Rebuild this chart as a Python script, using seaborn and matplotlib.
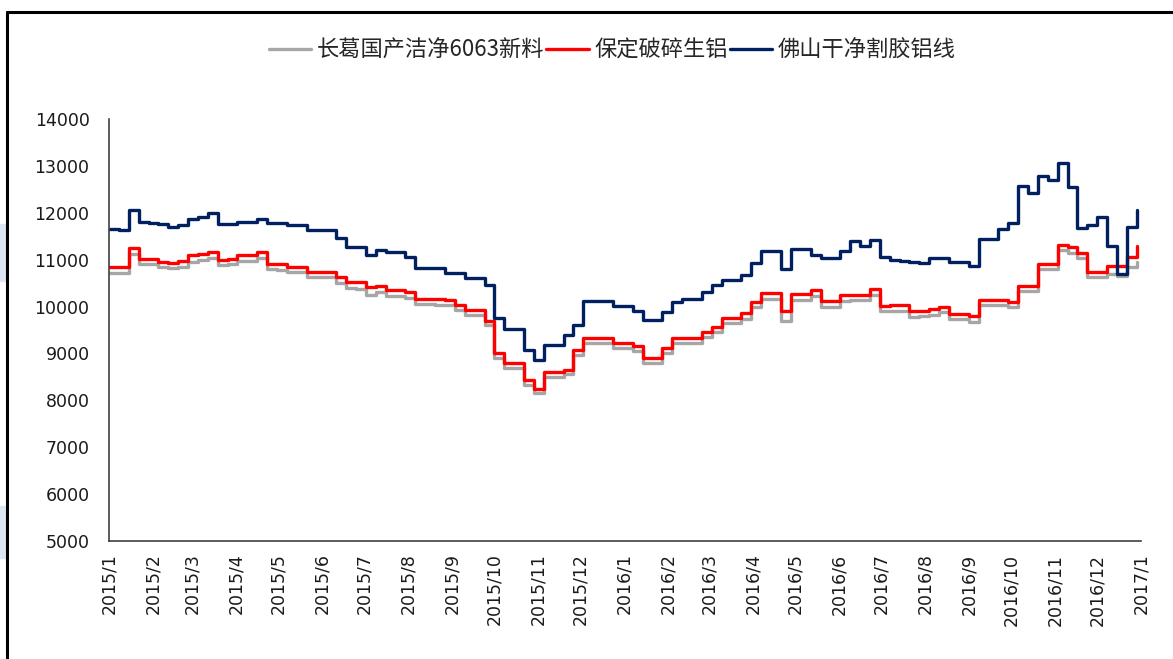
import pandas as pd
import seaborn as sns
import matplotlib.pyplot as plt
from matplotlib.lines import Line2D
from matplotlib.patches import Rectangle

# weekly price readings, 2015-01-01 .. 2016-12-29
dates = pd.date_range("2015-01-01", periods=105, freq="7D")

changge_6063 = [
    10720, 10720, 11120, 10900, 10900, 10850, 10820, 10840, 10960, 10990,
    11030, 10880, 10900, 10970, 10980, 11040, 10800, 10790, 10730, 10730,
    10630, 10630, 10620, 10500, 10400, 10380, 10250, 10300, 10230, 10230,
    10180, 10050, 10050, 10040, 10030, 9920, 9820, 9820, 9600, 8900,
    8700, 8700, 8330, 8150, 8500, 8500, 8560, 8960, 9230, 9230,
    9230, 9120, 9120, 9050, 8800, 8800, 9000, 9230, 9230, 9230,
    9350, 9450, 9640, 9640, 9740, 9980, 10170, 10170, 9700, 10150,
    10150, 10230, 10000, 10000, 10120, 10140, 10130, 10250, 9900, 9910,
    9910, 9780, 9790, 9830, 9880, 9730, 9730, 9680, 10030, 10030,
    10030, 9990, 10330, 10330, 10800, 10800, 11200, 11150, 11040, 10620,
    10620, 10700, 10650, 10850, 10950,
]

baoding_scrap = [
    10840, 10840, 11250, 11010, 11010, 10960, 10930, 10970, 11100, 11130,
    11160, 11000, 11010, 11090, 11090, 11160, 10900, 10900, 10840, 10840,
    10740, 10740, 10740, 10630, 10520, 10520, 10420, 10430, 10350, 10350,
    10300, 10160, 10160, 10160, 10150, 10030, 9925, 9925, 9700, 9000,
    8795, 8795, 8430, 8250, 8600, 8600, 8650, 9070, 9330, 9330,
    9330, 9220, 9220, 9150, 8900, 8900, 9110, 9330, 9330, 9330,
    9460, 9560, 9750, 9750, 9860, 10100, 10290, 10290, 9900, 10270,
    10270, 10350, 10120, 10120, 10250, 10250, 10250, 10370, 10010, 10030,
    10030, 9900, 9900, 9950, 10000, 9840, 9840, 9800, 10140, 10140,
    10140, 10100, 10440, 10440, 10910, 10910, 11310, 11260, 11150, 10730,
    10730, 10860, 10860, 11060, 11300,
]

foshan_wire = [
    11650, 11640, 12050, 11800, 11790, 11760, 11700, 11740, 11860, 11910,
    11990, 11760, 11760, 11800, 11810, 11860, 11790, 11780, 11740, 11740,
    11630, 11630, 11630, 11460, 11270, 11270, 11100, 11200, 11160, 11160,
    11050, 10820, 10820, 10820, 10715, 10715, 10610, 10610, 10450, 9750,
    9520, 9520, 9070, 8850, 9180, 9180, 9400, 9600, 10120, 10120,
    10120, 10010, 10010, 9900, 9710, 9710, 9880, 10100, 10160, 10160,
    10310, 10450, 10560, 10560, 10670, 10930, 11180, 11180, 10800, 11225,
    11225, 11100, 11030, 11030, 11180, 11390, 11300, 11420, 11055, 11000,
    10970, 10950, 10920, 11035, 11035, 10950, 10950, 10870, 11440, 11440,
    11650, 11780, 12570, 12420, 12780, 12700, 13060, 12560, 11675, 11750,
    11900, 11300, 10700, 11700, 12050,
]

series_names = ["长葛国产洁净6063新料", "保定破碎生铝", "佛山干净割胶铝线"]
colors = ["#A6A6A6", "#FF0000", "#002060"]
y_ticks = list(range(5000, 14001, 1000))
month_ticks = pd.date_range("2015-01-01", "2017-01-01", freq="MS")


def build_frame():
    parts = []
    for name, vals in zip(series_names, [changge_6063, baoding_scrap, foshan_wire]):
        parts.append(pd.DataFrame({"date": dates, "price": vals, "series": name}))
    return pd.concat(parts, ignore_index=True)


def main():
    df = build_frame()

    sns.set_style("white")
    plt.rcParams["font.family"] = ["Noto Sans CJK SC", "DejaVu Sans"]

    fig = plt.figure(figsize=(11.73, 6.59), dpi=100)
    ax = fig.add_axes([109 / 1173, 1 - 541 / 659, (1141 - 109) / 1173, (541 - 119) / 659])

    sns.lineplot(data=df, x="date", y="price", hue="series", hue_order=series_names,
                 palette=colors, linewidth=2.4, drawstyle="steps-post", ax=ax)

    ax.set_xlim(pd.Timestamp("2015-01-01"), pd.Timestamp("2017-01-01"))
    ax.set_ylim(5000, 14000)
    ax.set_yticks(y_ticks)
    ax.set_yticklabels([str(v) for v in y_ticks], family="DejaVu Sans", fontsize=12.5, color="#1a1a1a")
    ax.set_xticks(month_ticks)
    ax.set_xticklabels([f"{d.year}/{d.month}" for d in month_ticks], rotation=90,
                       family="DejaVu Sans", fontsize=12.5, color="#1a1a1a")
    ax.set_xlabel("")
    ax.set_ylabel("")

    for side in ["top", "right"]:
        ax.spines[side].set_visible(False)
    for side in ["left", "bottom"]:
        ax.spines[side].set_color("#404040")
        ax.spines[side].set_linewidth(1.2)
    ax.tick_params(axis="both", direction="in", length=6, width=1.2, color="#404040")
    ax.tick_params(axis="y", pad=14)
    ax.tick_params(axis="x", pad=9)

    handles, labels = ax.get_legend_handles_labels()
    ax.legend(handles, labels, loc="center", bbox_to_anchor=(0.522, 1 - 50 / 659),
              bbox_transform=fig.transFigure, ncol=3, frameon=False, fontsize=16,
              handlelength=1.9, handletextpad=0.25, columnspacing=0.1)

    # outer frame and the pale patches on the left edge
    fig.add_artist(Rectangle((0, 1 - 281 / 659), 6 / 1173, 57 / 659,
                             transform=fig.transFigure, color="#DCE6F2", zorder=0))
    fig.add_artist(Rectangle((0, 1 - 558 / 659), 6 / 1173, 52 / 659,
                             transform=fig.transFigure, color="#DCE6F2", zorder=0))
    fig.add_artist(Line2D([7 / 1173, 1.0], [1 - 12 / 659, 1 - 12 / 659],
                          transform=fig.transFigure, color="black", linewidth=2.2))
    fig.add_artist(Line2D([7 / 1173, 7 / 1173], [0.0, 1 - 12 / 659],
                          transform=fig.transFigure, color="black", linewidth=2.2))

    fig.savefig("out.png", dpi=100)


if __name__ == "__main__":
    main()
